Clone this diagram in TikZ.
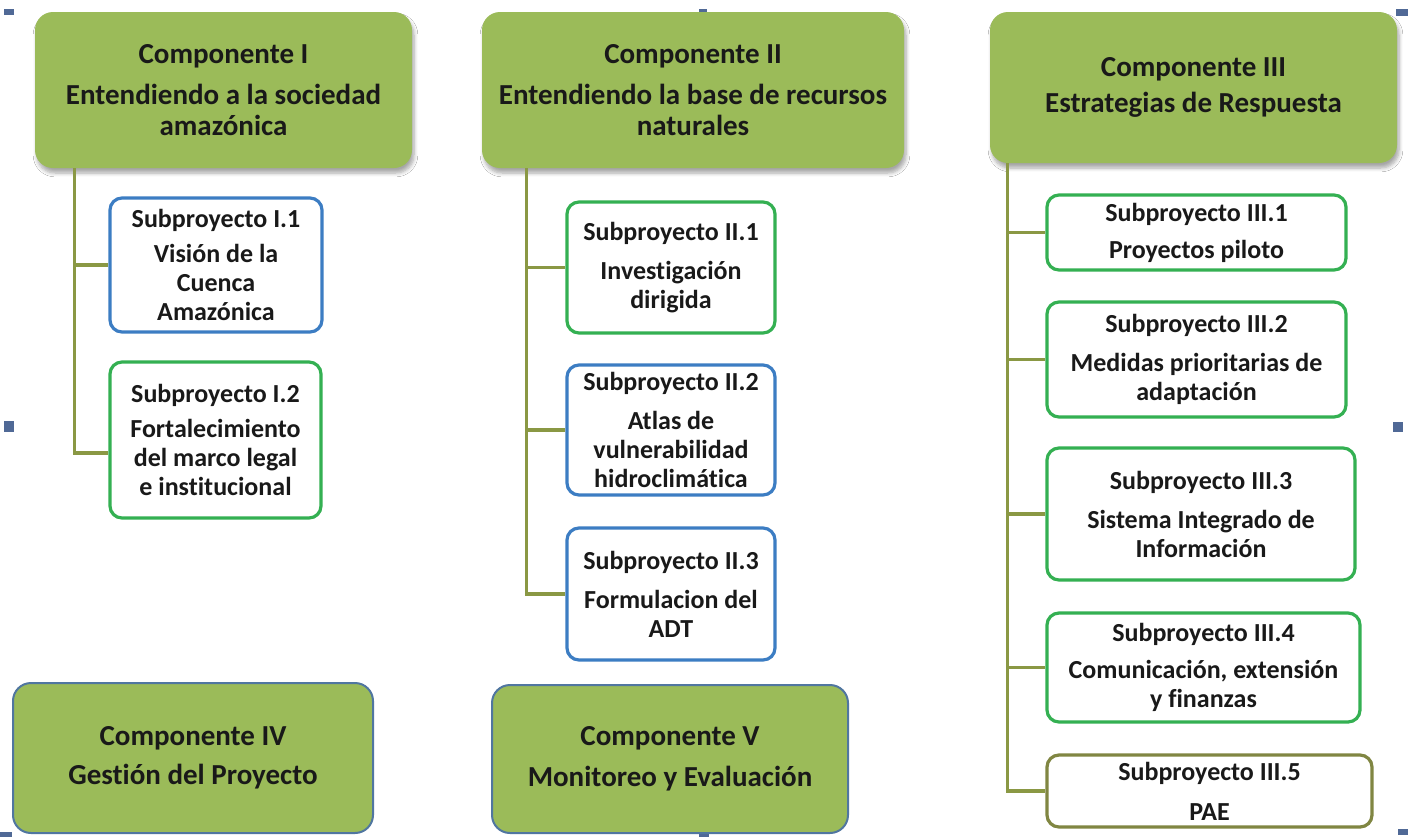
\documentclass[tikz,border=0pt]{standalone}
\usepackage{fontspec}
\setmainfont{Carlito}[Ligatures=NoCommon]
\usetikzlibrary{shadows.blur}
\definecolor{compgreen}{RGB}{155,187,89}
\definecolor{subgreen}{RGB}{52,176,82}
\definecolor{subblue}{RGB}{60,125,195}
\definecolor{olive}{RGB}{138,152,68}
\definecolor{darkolive}{RGB}{128,134,66}
\definecolor{compedge}{RGB}{80,118,160}
\definecolor{handlecol}{RGB}{80,105,150}
\definecolor{txt}{RGB}{25,25,25}
\tikzset{
  comp/.style={rounded corners=9pt, fill=compgreen, align=center, inner sep=0pt,
    text=txt, font=\fontsize{14.5}{15.5}\selectfont\bfseries},
  comptop/.style={comp, blur shadow={shadow xshift=1pt, shadow yshift=-2.5pt, shadow opacity=35, shadow blur steps=6}},
  compbot/.style={comp, draw=compedge, line width=1pt},
  sub/.style={rounded corners=6pt, fill=white, line width=1.6pt, align=center, inner sep=1pt,
    text=txt, font=\fontsize{13}{14.5}\selectfont\bfseries},
  subg/.style={sub, draw=subgreen},
  subb/.style={sub, draw=subblue},
  subo/.style={sub, draw=darkolive},
  conn/.style={draw=olive, line width=1.8pt},
  handle/.style={fill=handlecol}
}
\begin{document}
\begin{tikzpicture}[x=0.5pt,y=-0.5pt]
\useasboundingbox (0,0) rectangle (1408,837);
\fill[white] (0,0) rectangle (1408,837);

% selection handles
\fill[handle] (4,9) rectangle (14,15);
\fill[handle] (699,9) rectangle (707,15);
\fill[handle] (1396,9) rectangle (1408,16);
\fill[handle] (4,421) rectangle (14,432);
\fill[handle] (1393,422) rectangle (1403,432);
\fill[handle] (0,832) rectangle (12,837);
\fill[handle] (699,832) rectangle (709,837);
\fill[handle] (1398,829) rectangle (1408,835);

% components
\node[comptop, minimum width=188.5pt, minimum height=78pt] (c1) at (223.5,90)
  {Componente I\\[5pt]Entendiendo a la sociedad\\amazónica};
\node[comptop, minimum width=211pt, minimum height=78pt] (c2) at (693,90)
  {Componente II\\[5pt]Entendiendo la base de recursos\\naturales};
\node[comptop, minimum width=203.5pt, minimum height=75.5pt] (c3) at (1193.5,87.5)
  {Componente III\\[2.5pt]Estrategias de Respuesta};
\node[compbot, minimum width=180pt, minimum height=75pt] (c4) at (193,758)
  {Componente IV\\[4pt]Gestión del Proyecto};
\node[compbot, minimum width=178pt, minimum height=74pt] (c5) at (670,759)
  {Componente V\\[5pt]Monitoreo y Evaluación};

% subprojects column I
\node[subb, minimum width=106pt, minimum height=67pt] (s11) at (216,265)
  {Subproyecto I.1\\[3pt]Visión de la\\Cuenca\\Amazónica};
\node[subg, minimum width=105.5pt, minimum height=78pt] (s12) at (215.5,440)
  {Subproyecto I.2\\[3pt]Fortalecimiento\\del marco legal\\e institucional};

% subprojects column II
\node[subg, minimum width=104pt, minimum height=65.5pt] (s21) at (671,267.5)
  {Subproyecto II.1\\[5pt]Investigación\\dirigida};
\node[subb, minimum width=104pt, minimum height=65pt] (s22) at (671,430)
  {Subproyecto II.2\\[5pt]Atlas de\\vulnerabilidad\\hidroclimática};
\node[subb, minimum width=104pt, minimum height=66pt] (s23) at (671,594)
  {Subproyecto II.3\\[5pt]Formulacion del\\ADT};

% subprojects column III
\node[subg, minimum width=149.5pt, minimum height=37.5pt] (s31) at (1196.5,232.5)
  {Subproyecto III.1\\[4pt]Proyectos piloto};
\node[subg, minimum width=149.5pt, minimum height=57.5pt] (s32) at (1196.5,359.5)
  {Subproyecto III.2\\[5pt]Medidas prioritarias de\\adaptación};
\node[subg, minimum width=154pt, minimum height=66pt] (s33) at (1201,514)
  {Subproyecto III.3\\[5pt]Sistema Integrado de\\Información};
\node[subg, minimum width=156.5pt, minimum height=54.5pt] (s34) at (1203.5,667.5)
  {Subproyecto III.4\\[4pt]Comunicación, extensión\\y finanzas};
\node[subo, minimum width=162.5pt, minimum height=36pt] (s35) at (1209.5,791)
  {Subproyecto III.5\\[5.5pt]PAE};

% connectors
\draw[conn] ([xshift=20pt]c1.south west) |- (s11.west);
\draw[conn] ([xshift=20pt]c1.south west) |- ([yshift=-6.5pt]s12.west);

\draw[conn] ([xshift=22.5pt]c2.south west) |- (s21.west);
\draw[conn] ([xshift=22.5pt]c2.south west) |- (s22.west);
\draw[conn] ([xshift=22.5pt]c2.south west) |- (s23.west);

\draw[conn] ([xshift=9pt]c3.south west) |- (s31.west);
\draw[conn] ([xshift=9pt]c3.south west) |- (s32.west);
\draw[conn] ([xshift=9pt]c3.south west) |- (s33.west);
\draw[conn] ([xshift=9pt]c3.south west) |- (s34.west);
\draw[conn] ([xshift=9pt]c3.south west) |- (s35.west);
\end{tikzpicture}
\end{document}
